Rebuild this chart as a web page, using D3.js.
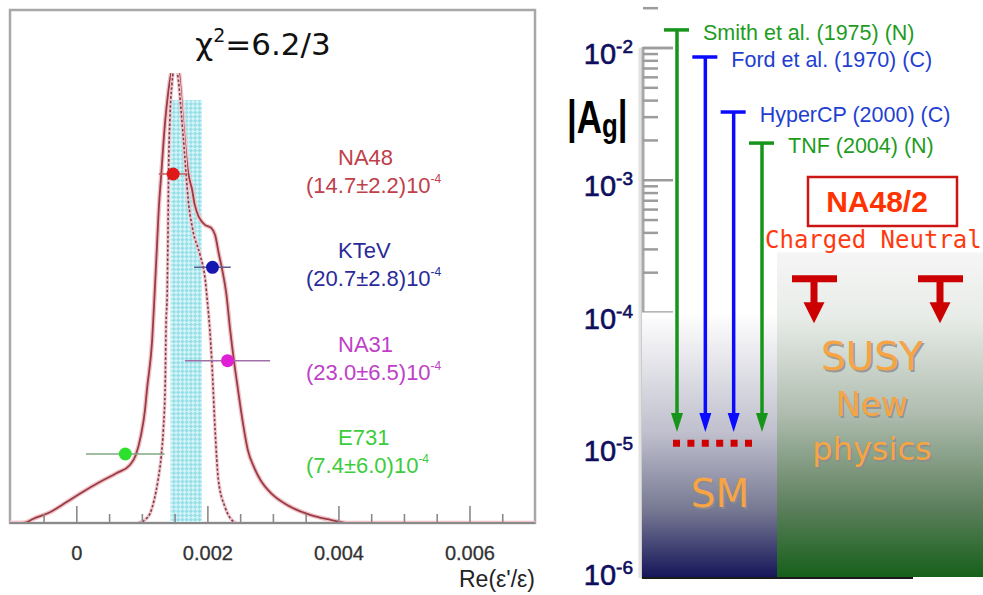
<!DOCTYPE html>
<html><head><meta charset="utf-8">
<script src="https://cdn.jsdelivr.net/npm/d3@7"></script>
<style>body{margin:0;background:#fff}svg{display:block}</style>
</head><body>
<svg id="c" width="983" height="595"></svg>
<script>
// ---------------- DATA (left panel: Re(eps'/eps)) ----------------
const experiments   = ["NA48", "KTeV", "NA31", "E731"];
const measured      = [14.7e-4, 20.7e-4, 23.0e-4, 7.4e-4];
const measuredErr   = [2.2e-4, 2.8e-4, 6.5e-4, 6.0e-4];
const measuredText  = ["(14.7\u00b12.2)10", "(20.7\u00b12.8)10", "(23.0\u00b16.5)10", "(7.4\u00b16.0)10"];
const worldAverage = 16.7e-4, worldAverageErr = 2.4e-4, bandHeight = 94;
const xTickValues = [0, 0.002, 0.004, 0.006];
const chi2Label = "6.2/3";
// ideogram (solid) : [Re(eps'/eps) in 1e-4, relative density]
const ideogram = [[-10.2,0],[-7.9,0.1],[-6.7,0.9],[-4.1,2.4],[-1.5,4.7],[0.9,6.9],[3.5,9.1],[6.1,11.1],[8.1,12.9],[9.0,15.1],[9.8,19.6],[10.4,25.1],[10.7,29.6],[11.5,40.7],[11.9,51.8],[12.2,60.7],[12.5,69.6],[12.9,77.8],[13.5,89.6],[13.9,95.1],[14.4,100],[15.0,102.9],[15.6,100],[16.2,89.6],[17.0,77.8],[17.6,74.0],[18.0,70.7],[18.7,67.8],[19.6,66.2],[20.5,65.6],[21.1,64.0],[21.7,59.6],[22.2,56.2],[22.8,51.1],[23.4,42.9],[24.0,35.8],[24.6,29.6],[25.2,23.6],[26.1,16.2],[27.1,12.2],[28.0,9.6],[29.8,6.4],[32.1,4.0],[35.6,1.8],[38.7,0.7],[41.3,0],[70,0]];
// gaussian of the average (dotted)
const gaussCurve = [[9.35,0],[10.4,0.7],[11.2,2.2],[11.8,5.1],[12.4,9.6],[12.9,15.1],[13.2,20.7],[13.5,31.8],[13.6,42.9],[13.8,51.8],[13.9,62.9],[14.0,77.8],[14.2,89.6],[14.5,97.3],[15.0,101.8],[15.5,98.4],[15.9,91.8],[16.4,82.9],[17.0,71.8],[17.7,65.1],[18.8,59.6],[19.6,54.0],[19.9,49.6],[20.3,42.9],[20.6,36.0],[21.1,20.7],[21.6,9.6],[22.6,3.6],[23.4,1.1],[24.3,0]];

// ---------------- DATA (right panel: |A_g|) ----------------
const limitLabels = ["Smith et al. (1975) (N)", "Ford et al. (1970) (C)", "HyperCP (2000) (C)", "TNF (2004) (N)"];
const limitValues = [1.37e-2, 8.55e-3, 3.28e-3, 1.91e-3];
const decades = [1e-2, 1e-3, 1e-4, 1e-5, 1e-6];
const smPrediction = 1e-5;
const smRegionTop = 1e-4, newPhysicsTop = 2.85e-4;
const na48Modes = ["Charged", "Neutral"];
const na48Sensitivity = [1.8e-4, 1.8e-4];
const arrowEnd = 1.25e-5, sensitivityEnd = 8.3e-5;

// ---------------- DRAW ----------------
const svg = d3.select("#c");
const defs = svg.append("defs");
const F = "'Liberation Sans', Arial, sans-serif";
const DJ = "'DejaVu Sans', sans-serif";

// ===== LEFT PANEL =====
const x = d3.scaleLinear().domain([-0.00102, 0.007]).range([10, 535.5]);
const y = d3.scaleLinear().domain([0, 100]).range([523, 73]);

defs.append("clipPath").attr("id","clipL").append("rect")
  .attr("x",10).attr("y",73).attr("width",525).attr("height",450);
const pat = defs.append("pattern").attr("id","hatch").attr("patternUnits","userSpaceOnUse")
  .attr("width",6).attr("height",6).attr("patternTransform","rotate(45)");
pat.append("rect").attr("width",6).attr("height",6).attr("fill","#d4f4f7");
pat.append("rect").attr("width",3).attr("height",3).attr("fill","#96dfe8");
pat.append("rect").attr("x",3).attr("y",3).attr("width",3).attr("height",3).attr("fill","#96dfe8");

const L = svg.append("g");
// frame
L.append("rect").attr("x",10).attr("y",10).attr("width",525).attr("height",513)
  .attr("fill","none").attr("stroke","#a8a8a8").attr("stroke-width",2.5);
// band
L.append("rect").attr("x",x(worldAverage-worldAverageErr)).attr("y",y(bandHeight))
  .attr("width",x(worldAverage+worldAverageErr)-x(worldAverage-worldAverageErr))
  .attr("height",y(0)-y(bandHeight)).attr("fill","url(#hatch)");

const line = d3.line().x(d=>x(d[0]*1e-4)).y(d=>y(d[1])).curve(d3.curveMonotoneX);
const curves = L.append("g").attr("clip-path","url(#clipL)");
curves.append("path").attr("d",line(ideogram)).attr("fill","none")
  .attr("stroke","#f0c4c8").attr("stroke-width",4.5);
curves.append("path").attr("d",line(ideogram)).attr("fill","none")
  .attr("stroke","#9a3c46").attr("stroke-width",1.8);
curves.append("path").attr("d",line(gaussCurve)).attr("fill","none")
  .attr("stroke","#f0c8cc").attr("stroke-width",3.5);
curves.append("path").attr("d",line(gaussCurve)).attr("fill","none")
  .attr("stroke","#7e3c4c").attr("stroke-width",1.6).attr("stroke-dasharray","2.5,2");

// x axis
L.append("line").attr("x1",10).attr("x2",535).attr("y1",523).attr("y2",523)
  .attr("stroke","#8a8a8a").attr("stroke-width",2);
const minor = d3.range(-0.0005, 0.00651, 0.0005);
L.selectAll(".mt").data(minor).join("line")
  .attr("x1",d=>x(d)).attr("x2",d=>x(d)).attr("y1",523)
  .attr("y2",d=>xTickValues.some(t=>Math.abs(t-d)<1e-9)?506:514)
  .attr("stroke","#8a8a8a").attr("stroke-width",1.6);
L.selectAll(".tl").data(xTickValues).join("text")
  .attr("x",d=>x(d)).attr("y",560).attr("text-anchor","middle")
  .attr("font-family",F).attr("font-size",20).attr("fill","#333")
  .attr("stroke","#333").attr("stroke-width",0.3)
  .text(d=>d===0?"0":d3.format(".3f")(d));
L.append("text").attr("x",535).attr("y",587).attr("text-anchor","end")
  .attr("font-family",F).attr("font-size",23).attr("fill","#222")
  .text("Re(\u03b5'/\u03b5)");

// points
const colP = {NA48:"#e01818",KTeV:"#1616b0",NA31:"#e020d4",E731:"#2ee02e"};
const colT = {NA48:"#c0404a",KTeV:"#2a2a9a",NA31:"#c040c8",E731:"#3ccc3c"};
const colE = {NA48:"#c06060",KTeV:"#606090",NA31:"#a070a8",E731:"#80a880"};
const yRow = d3.scalePoint().domain(experiments).range([174,454]);
experiments.forEach((e,i)=>{
  const cy = yRow(e);
  L.append("line").attr("x1",x(measured[i]-measuredErr[i])).attr("x2",x(measured[i]+measuredErr[i]))
    .attr("y1",cy).attr("y2",cy).attr("stroke",colE[e]).attr("stroke-width",1.5);
  L.append("circle").attr("cx",x(measured[i])).attr("cy",cy).attr("r",6.5).attr("fill",colP[e]);
  L.append("text").attr("x",338).attr("y",cy-9).attr("font-family",F).attr("font-size",22)
    .attr("fill",colT[e]).text(e);
  const t = L.append("text").attr("x",306).attr("y",cy+19).attr("font-family",F).attr("font-size",22)
    .attr("fill",colT[e]).text(measuredText[i]);
  t.append("tspan").attr("dy",-10).attr("font-size",12).text("-4");
});

// title
const tt = L.append("text").attr("x",263).attr("y",55).attr("text-anchor","middle")
  .attr("font-family",DJ).attr("font-size",31).attr("fill","#111").text("\u03c7");
tt.append("tspan").attr("dy",-13).attr("font-size",19).text("2");
tt.append("tspan").attr("dy",13).text("="+chi2Label);

// ===== RIGHT PANEL =====
const yl = d3.scaleLog().domain([1e-6,1e-2]).range([577,48]);
const R = svg.append("g");
const AX = 643;

// axis line and ticks
R.append("line").attr("x1",AX-3).attr("x2",AX-3).attr("y1",48).attr("y2",578).attr("stroke","#e2e2e2").attr("stroke-width",3);
R.append("line").attr("x1",AX).attr("x2",AX).attr("y1",47).attr("y2",578).attr("stroke","#a8a8a8").attr("stroke-width",3);
const rTicks = [];
for (let k=-4;k<-1;k++) for (let m=1;m<10;m++) rTicks.push(m*Math.pow(10,k));
rTicks.push(1e-2);
R.selectAll(".rt").data(rTicks).join("line")
  .attr("x1",AX).attr("x2",d=>{const m=d/Math.pow(10,Math.floor(Math.log10(d)+1e-9));return Math.abs(m-1)<1e-6?AX+30:AX+15;})
  .attr("y1",d=>yl(d)).attr("y2",d=>yl(d)).attr("stroke","#9c9c9c").attr("stroke-width",2.5);

// region gradients
const g1 = defs.append("linearGradient").attr("id","gSM").attr("x1",0).attr("x2",0).attr("y1",0).attr("y2",1);
[[0,"#ffffff"],[0.45,"#c0c0ce"],[0.75,"#767892"],[1,"#16165a"]].forEach(s=>g1.append("stop").attr("offset",s[0]).attr("stop-color",s[1]));
const g2 = defs.append("linearGradient").attr("id","gNP").attr("x1",0).attr("x2",0).attr("y1",0).attr("y2",1);
[[0,"#f5f5f5"],[0.2,"#e8ece8"],[0.5,"#aebcae"],[0.78,"#5e805e"],[1,"#16601a"]].forEach(s=>g2.append("stop").attr("offset",s[0]).attr("stop-color",s[1]));
R.append("rect").attr("x",AX-1).attr("y",yl(smRegionTop)).attr("width",777-(AX-1)).attr("height",yl(1e-6)-yl(smRegionTop)).attr("fill","url(#gSM)");
R.append("rect").attr("x",777).attr("y",yl(newPhysicsTop)).attr("width",206).attr("height",yl(1e-6)-yl(newPhysicsTop)).attr("fill","url(#gNP)");
R.append("line").attr("x1",AX-1).attr("x2",913).attr("y1",578).attr("y2",578).attr("stroke","#1a1a1a").attr("stroke-width",2);

// decade labels
decades.forEach(d=>{
  const k = Math.round(Math.log10(d));
  const t = R.append("text").attr("x",633).attr("y",yl(d)+(k===-6?8:16)).attr("text-anchor","end")
    .attr("font-family",F).attr("font-size",29).attr("fill","#0e0e5e")
    .attr("stroke","#0e0e5e").attr("stroke-width",0.6).text("10");
  t.append("tspan").attr("dy",-11).attr("font-size",19).text(String(k));
});

// |A_g|  (narrow tall lettering, scaled horizontally)
const ag = R.append("text").attr("transform","translate(567,133) scale(0.76,1)")
  .attr("font-family",F).attr("font-weight","bold").attr("font-size",46).attr("fill","#000").text("|A");
ag.append("tspan").attr("dy",4).attr("font-size",34).text("g");
ag.append("tspan").attr("dy",-4).text("|");

// limit arrows
const xLim = d3.scalePoint().domain(limitLabels).range([677,762]);
limitLabels.forEach((lab,i)=>{
  const cx = xLim(lab), top = yl(limitValues[i]), tip = yl(arrowEnd);
  const c = lab.includes("(N)") ? "#17951a" : "#0a0aff";
  const ct = lab.includes("(N)") ? "#1e9c1e" : "#1f3fd2";
  R.append("line").attr("x1",cx-13).attr("x2",cx+12).attr("y1",top).attr("y2",top).attr("stroke",c).attr("stroke-width",3.5);
  R.append("line").attr("x1",cx).attr("x2",cx).attr("y1",top).attr("y2",tip-16).attr("stroke",c).attr("stroke-width",3.5);
  R.append("path").attr("d",`M${cx-6},${tip-19}L${cx+6},${tip-19}L${cx},${tip}Z`).attr("fill",c);
  R.append("text").attr("x",cx+26).attr("y",top+10).attr("font-family",F).attr("font-size",21.5).attr("fill",ct).text(lab);
});

// SM prediction
R.append("line").attr("x1",673).attr("x2",752).attr("y1",yl(smPrediction)-1.5).attr("y2",yl(smPrediction)-1.5)
  .attr("stroke","#d00000").attr("stroke-width",7).attr("stroke-dasharray","7,7.4");

// NA48/2
R.append("rect").attr("x",808).attr("y",177).attr("width",149).attr("height",49)
  .attr("fill","#fff").attr("stroke","#cc1515").attr("stroke-width",2.5);
R.append("text").attr("x",877).attr("y",212).attr("text-anchor","middle").attr("font-family",F)
  .attr("font-weight","bold").attr("font-size",30).attr("fill","#ff3300").text("NA48/2");
R.append("text").attr("x",765).attr("y",248).attr("font-family","'DejaVu Sans Mono', monospace")
  .attr("font-size",24).attr("fill","#ff3a10").text(na48Modes.join(" "));
const xMode = d3.scalePoint().domain(na48Modes).range([814,940]);
na48Modes.forEach((m,i)=>{
  const cx = xMode(m), top = yl(na48Sensitivity[i]), tip = yl(sensitivityEnd);
  R.append("line").attr("x1",cx-22).attr("x2",cx+23).attr("y1",top).attr("y2",top).attr("stroke","#cc0000").attr("stroke-width",7);
  R.append("line").attr("x1",cx).attr("x2",cx).attr("y1",top).attr("y2",tip-19).attr("stroke","#cc0000").attr("stroke-width",7);
  R.append("path").attr("d",`M${cx-10.5},${tip-21}L${cx+10.5},${tip-21}L${cx},${tip}Z`).attr("fill","#cc0000");
});

// region texts
function shadowText(txt, cx, by, size){
  R.append("text").attr("x",cx+1.6).attr("y",by+1.6).attr("text-anchor","middle").attr("font-family",DJ)
    .attr("font-size",size).attr("fill","#8c8c8c").attr("opacity",0.8).text(txt);
  R.append("text").attr("x",cx).attr("y",by).attr("text-anchor","middle").attr("font-family",DJ)
    .attr("font-size",size).attr("fill","#f7a444").text(txt);
}
shadowText("SM", 720, 507, 39);
shadowText("SUSY", 872, 370, 39);
shadowText("New", 872, 416, 33);
shadowText("physics", 872, 460, 32);
</script>
</body></html>
